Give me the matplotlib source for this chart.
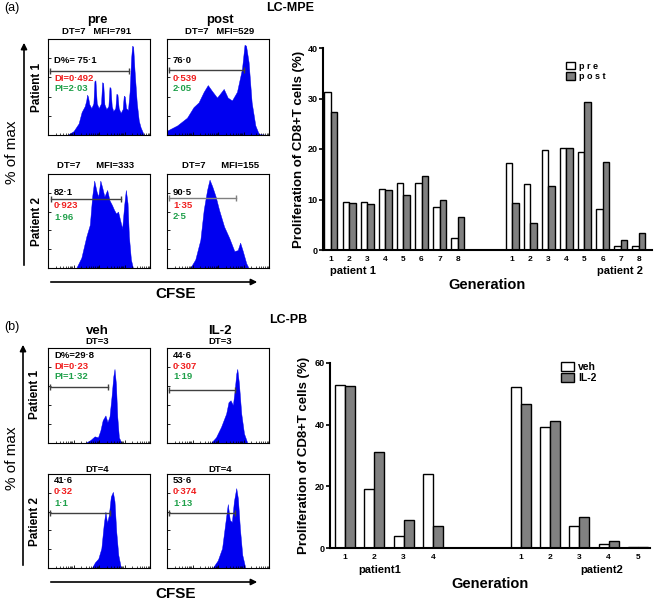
import numpy as np
import matplotlib
matplotlib.use("Agg")
import matplotlib.pyplot as plt
from matplotlib.patches import Patch, FancyArrowPatch

plt.rcParams['font.family'] = ['Liberation Sans', 'DejaVu Sans']
plt.rcParams['font.weight'] = 'bold'

# ---------------- data: bar charts ----------------
mpe_generations = [1, 2, 3, 4, 5, 6, 7, 8]
mpe_p1_pre = [31.3, 9.5, 9.5, 12.0, 13.2, 13.2, 8.6, 2.4]
mpe_p1_post = [27.3, 9.3, 9.1, 11.8, 10.9, 14.6, 9.9, 6.5]
mpe_p2_pre = [17.3, 13.0, 19.9, 20.2, 19.5, 8.2, 0.8, 0.8]
mpe_p2_post = [9.3, 5.4, 12.6, 20.1, 29.3, 17.5, 2.0, 3.4]

pb_p1_generations = [1, 2, 3, 4]
pb_p1_veh = [53.0, 19.0, 3.9, 24.0]
pb_p1_il2 = [52.6, 31.2, 9.1, 7.2]
pb_p2_generations = [1, 2, 3, 4, 5]
pb_p2_veh = [52.2, 39.1, 7.2, 1.4, 0.3]
pb_p2_il2 = [46.8, 41.2, 10.0, 2.2, 0.2]

# ---------------- data: CFSE histogram outlines (fraction of box) -------------
mpe_pre_p1_x = [0.0, 0.19, 0.25, 0.30, 0.33, 0.36, 0.375, 0.383, 0.392, 0.405, 0.425, 0.445,
                0.455, 0.465, 0.478, 0.497, 0.52, 0.531, 0.541, 0.553, 0.572, 0.592, 0.603,
                0.613, 0.625, 0.64, 0.66, 0.671, 0.681, 0.693, 0.712, 0.732, 0.743, 0.753,
                0.765, 0.784, 0.80, 0.815, 0.825, 0.835, 0.848, 0.87, 0.89, 0.908, 0.94, 1.0]
mpe_pre_p1_y = [0.0, 0.0, 0.04, 0.12, 0.24, 0.30, 0.36, 0.42, 0.40, 0.32, 0.28, 0.33,
                0.56, 0.57, 0.33, 0.28, 0.33, 0.55, 0.54, 0.32, 0.27, 0.30, 0.50,
                0.49, 0.30, 0.25, 0.28, 0.43, 0.42, 0.28, 0.23, 0.27, 0.41, 0.40,
                0.28, 0.26, 0.45, 0.80, 0.93, 0.92, 0.68, 0.34, 0.15, 0.08, 0.0, 0.0]

mpe_post_p1_x = [0.0, 0.10, 0.196, 0.26, 0.31, 0.36, 0.40, 0.44, 0.49, 0.52, 0.556, 0.595, 0.637,
                 0.686, 0.735, 0.760, 0.775, 0.80, 0.83, 0.866, 0.90, 1.0]
mpe_post_p1_y = [0.045, 0.10, 0.18, 0.29, 0.34, 0.45, 0.52, 0.46, 0.39, 0.43, 0.48, 0.39, 0.36,
                 0.45, 0.69, 0.94, 0.93, 0.76, 0.34, 0.10, 0.01, 0.0]

mpe_pre_p2_x = [0.0, 0.277, 0.327, 0.377, 0.41, 0.433, 0.453, 0.477, 0.493, 0.513, 0.533, 0.553,
                0.58, 0.603, 0.627, 0.647, 0.667, 0.687, 0.707, 0.727, 0.747, 0.763, 0.78,
                0.793, 0.813, 0.833, 1.0]
mpe_pre_p2_y = [0.0, 0.0, 0.11, 0.34, 0.46, 0.76, 0.93, 0.81, 0.76, 0.93, 0.85, 0.76,
                0.83, 0.72, 0.67, 0.62, 0.58, 0.60, 0.51, 0.42, 0.67, 0.83, 0.69,
                0.34, 0.09, 0.0, 0.0]

mpe_post_p2_x = [0.0, 0.227, 0.277, 0.327, 0.36, 0.393, 0.417, 0.443, 0.477, 0.51, 0.56, 0.61,
                 0.66, 0.693, 0.717, 0.743, 0.777, 0.80, 1.0]
mpe_post_p2_y = [0.0, 0.0, 0.09, 0.30, 0.62, 0.83, 0.94, 0.87, 0.76, 0.62, 0.44, 0.32,
                 0.18, 0.19, 0.27, 0.18, 0.05, 0.0, 0.0]

pb_veh_p1_x = [0.0, 0.364, 0.414, 0.457, 0.49, 0.513, 0.536, 0.563, 0.583, 0.603, 0.623, 0.64,
               0.652, 0.666, 0.679, 0.695, 0.72, 1.0]
pb_veh_p1_y = [0.0, 0.0, 0.03, 0.07, 0.06, 0.13, 0.24, 0.29, 0.22, 0.28, 0.49, 0.70,
               0.78, 0.62, 0.28, 0.06, 0.0, 0.0]

pb_il2_p1_x = [0.0, 0.43, 0.48, 0.53, 0.58, 0.603, 0.623, 0.646, 0.662, 0.679, 0.689, 0.705,
               0.728, 0.755, 0.788, 1.0]
pb_il2_p1_y = [0.0, 0.0, 0.06, 0.17, 0.31, 0.43, 0.45, 0.40, 0.54, 0.73, 0.78, 0.63,
               0.31, 0.10, 0.0, 0.0]

pb_veh_p2_x = [0.0, 0.43, 0.46, 0.493, 0.523, 0.546, 0.563, 0.579, 0.596, 0.616, 0.636, 0.652,
               0.669, 0.689, 0.715, 1.0]
pb_veh_p2_y = [0.0, 0.0, 0.06, 0.10, 0.21, 0.46, 0.60, 0.48, 0.56, 0.76, 0.81, 0.71,
               0.39, 0.14, 0.0, 0.0]

pb_il2_p2_x = [0.0, 0.447, 0.497, 0.54, 0.573, 0.596, 0.616, 0.636, 0.656, 0.679, 0.695, 0.715,
               0.738, 0.768, 1.0]
pb_il2_p2_y = [0.0, 0.0, 0.08, 0.21, 0.49, 0.68, 0.51, 0.49, 0.71, 0.85, 0.74, 0.42,
               0.14, 0.0, 0.0]

# ---------------- figure helpers ----------------
W, H = 654, 600
fig = plt.figure(figsize=(W / 100, H / 100), dpi=100)


def rect(x0, y0, x1, y1):
    return [x0 / W, 1 - y1 / H, (x1 - x0) / W, (y1 - y0) / H]


def ftext(x, y, s, **kw):
    kw.setdefault('ha', 'center')
    kw.setdefault('va', 'center')
    kw.setdefault('fontweight', 'bold')
    fig.text(x / W, 1 - y / H, s, **kw)


def arrow(x0, y0, x1, y1):
    a = FancyArrowPatch((x0 / W, 1 - y0 / H), (x1 / W, 1 - y1 / H),
                        transform=fig.transFigure, arrowstyle='-|>',
                        mutation_scale=9, lw=1.2, color='black')
    fig.add_artist(a)


RED = '#f01e1e'
GREEN = '#1fa04a'
BLUE = '#0000f0'


def hist_box(x0, y0, x1, y1, hx, hy, gate_y, gate_x0, gate_x1, texts, gate_color='#404040'):
    ax = fig.add_axes(rect(x0, y0, x1, y1))
    ax.fill_between(hx, hy, 0, color=BLUE, lw=0.3, edgecolor=BLUE)
    ax.set_xlim(0, 1)
    ax.set_ylim(0, 1)
    for s in ax.spines.values():
        s.set_linewidth(0.8)
    ax.set_yticks(np.linspace(0, 1, 6))
    ax.set_xticks(np.linspace(0, 1, 5))
    minor = []
    for d in range(4):
        for m in range(2, 10):
            minor.append((d + np.log10(m)) / 4)
    ax.set_xticks(minor, minor=True)
    ax.tick_params(direction='in', length=2.5, width=0.6, labelleft=False, labelbottom=False)
    ax.tick_params(which='minor', direction='in', length=1.3, width=0.5)
    ax.plot([gate_x0, gate_x1], [gate_y, gate_y], color=gate_color, lw=1.0)
    ax.plot([gate_x0, gate_x1], [gate_y, gate_y], ls='none', marker='|', ms=4,
            mew=1.0, color=gate_color)
    for (tx, ty, s, c) in texts:
        ax.text(tx, ty, s, color=c, fontsize=6.8, fontweight='bold',
                ha='left', va='center', transform=ax.transAxes)
    return ax


# ---------------- panel (a) ----------------
ftext(12, 8, '(a)', fontsize=9, fontweight='normal')
ftext(290, 8, 'LC-MPE', fontsize=9)
ftext(97, 20, 'pre', fontsize=9.5)
ftext(220, 20, 'post', fontsize=9.5)
ftext(97, 32, 'DT=7   MFI=791', fontsize=6.8)
ftext(220, 32, 'DT=7   MFI=529', fontsize=6.8)
ftext(96, 165, 'DT=7      MFI=333', fontsize=6.8)
ftext(221, 166, 'DT=7      MFI=155', fontsize=6.8)

hist_box(48, 39, 150, 135, mpe_pre_p1_x, mpe_pre_p1_y, 0.67, 0.02, 0.795,
         [(0.06, 0.78, 'D%= 75·1', 'black'), (0.06, 0.59, 'DI=0·492', RED),
          (0.06, 0.48, 'PI=2·03', GREEN)])
hist_box(167, 39, 269, 135, mpe_post_p1_x, mpe_post_p1_y, 0.68, 0.016, 0.75,
         [(0.06, 0.78, '76·0', 'black'), (0.06, 0.59, '0·539', RED),
          (0.06, 0.48, '2·05', GREEN)])
hist_box(48, 174, 150, 268, mpe_pre_p2_x, mpe_pre_p2_y, 0.73, 0.033, 0.72,
         [(0.06, 0.80, '82·1', 'black'), (0.06, 0.66, '0·923', RED),
          (0.06, 0.54, '1·96', GREEN)])
hist_box(167, 174, 269, 268, mpe_post_p2_x, mpe_post_p2_y, 0.75, 0.02, 0.677,
         [(0.06, 0.80, '90·5', 'black'), (0.06, 0.67, '1·35', RED),
          (0.06, 0.55, '2·5', GREEN)], gate_color='#808080')

ftext(37, 87, 'Patient 1', fontsize=8.5, rotation=90)
ftext(37, 221, 'Patient 2', fontsize=8.5, rotation=90)
arrow(24, 268, 24, 40)
arrow(48, 282, 260, 282)
ftext(12, 152, '% of max', fontsize=11, fontweight='normal', rotation=90)
ftext(176, 294, 'CFSE', fontsize=11)

# bar chart (a)
axa = fig.add_axes(rect(323, 48, 652, 250))
pos_p1 = np.array(mpe_generations, dtype=float)
pos_p2 = np.array(mpe_generations, dtype=float) + 10
bw = 0.36
axa.bar(pos_p1 - bw / 2, mpe_p1_pre, bw, color='white', edgecolor='black', lw=1.0)
axa.bar(pos_p1 + bw / 2, mpe_p1_post, bw, color='#808080', edgecolor='black', lw=1.0)
axa.bar(pos_p2 - bw / 2, mpe_p2_pre, bw, color='white', edgecolor='black', lw=1.0)
axa.bar(pos_p2 + bw / 2, mpe_p2_post, bw, color='#808080', edgecolor='black', lw=1.0)
axa.set_xlim(0.56, 18.73)
axa.set_ylim(0, 40)
axa.set_yticks([0, 10, 20, 30, 40])
axa.set_xticks(np.concatenate([pos_p1, pos_p2]))
axa.set_xticklabels([str(g) for g in mpe_generations] * 2)
axa.spines['top'].set_visible(False)
axa.spines['right'].set_visible(False)
axa.spines['left'].set_linewidth(1.5)
axa.spines['bottom'].set_linewidth(1.5)
axa.tick_params(axis='y', length=3, width=1.2, labelsize=6.5, pad=1)
axa.tick_params(axis='x', length=0, labelsize=6, pad=4)
for lbl in axa.get_xticklabels() + axa.get_yticklabels():
    lbl.set_fontweight('bold')
axa.set_ylabel('Proliferation of CD8+T cells (%)', fontsize=9.5, fontweight='bold', labelpad=2)
axa.legend(handles=[Patch(facecolor='white', edgecolor='black', lw=1.0, label='p r e'),
                    Patch(facecolor='#808080', edgecolor='black', lw=1.0, label='p o s t')],
           loc='upper left', bbox_to_anchor=(561 / W, 1 - 57 / H), bbox_transform=fig.transFigure,
           frameon=False, handlelength=1.1, handleheight=0.9,
           labelspacing=0.15, borderpad=0, handletextpad=0.4,
           prop={'weight': 'bold', 'size': 6.5})
ftext(353, 271, 'patient 1', fontsize=8)
ftext(620, 271, 'patient 2', fontsize=8)
ftext(487, 285, 'Generation', fontsize=10.5)

# ---------------- panel (b) ----------------
ftext(12, 327, '(b)', fontsize=9, fontweight='normal')
ftext(288, 320, 'LC-PB', fontsize=9)
ftext(97, 331, 'veh', fontsize=9.5)
ftext(220, 331, 'IL-2', fontsize=9.5)
ftext(97, 342, 'DT=3', fontsize=6.8)
ftext(220, 342, 'DT=3', fontsize=6.8)
ftext(97, 469, 'DT=4', fontsize=6.8)
ftext(220, 469, 'DT=4', fontsize=6.8)

hist_box(48, 348, 150, 443, pb_veh_p1_x, pb_veh_p1_y, 0.59, 0.017, 0.59,
         [(0.06, 0.92, 'D%=29·8', 'black'), (0.06, 0.81, 'DI=0·23', RED),
          (0.06, 0.70, 'PI=1·32', GREEN)])
hist_box(167, 348, 269, 443, pb_il2_p1_x, pb_il2_p1_y, 0.56, 0.017, 0.662,
         [(0.06, 0.92, '44·6', 'black'), (0.06, 0.81, '0·307', RED),
          (0.06, 0.70, '1·19', GREEN)])
hist_box(48, 474, 150, 568, pb_veh_p2_x, pb_veh_p2_y, 0.58, 0.017, 0.61,
         [(0.06, 0.93, '41·6', 'black'), (0.06, 0.81, '0·32', RED),
          (0.06, 0.69, '1·1', GREEN)])
hist_box(167, 474, 269, 568, pb_il2_p2_x, pb_il2_p2_y, 0.58, 0.017, 0.67,
         [(0.06, 0.93, '53·6', 'black'), (0.06, 0.81, '0·374', RED),
          (0.06, 0.69, '1·13', GREEN)])

ftext(35, 394, 'Patient 1', fontsize=8.5, rotation=90)
ftext(35, 521, 'Patient 2', fontsize=8.5, rotation=90)
arrow(23, 568, 23, 342)
arrow(48, 582, 260, 582)
ftext(12, 458, '% of max', fontsize=11, fontweight='normal', rotation=90)
ftext(176, 594, 'CFSE', fontsize=11)

# bar chart (b)
axb = fig.add_axes(rect(330, 363, 650, 548))
qpos_p1 = np.array(pb_p1_generations, dtype=float)
qpos_p2 = np.array(pb_p2_generations, dtype=float) + 6
bw2 = 0.34
axb.bar(qpos_p1 - bw2 / 2, pb_p1_veh, bw2, color='white', edgecolor='black', lw=1.0)
axb.bar(qpos_p1 + bw2 / 2, pb_p1_il2, bw2, color='#808080', edgecolor='black', lw=1.0)
axb.bar(qpos_p2 - bw2 / 2, pb_p2_veh, bw2, color='white', edgecolor='black', lw=1.0)
axb.bar(qpos_p2 + bw2 / 2, pb_p2_il2, bw2, color='#808080', edgecolor='black', lw=1.0)
axb.set_xlim(0.49, 11.41)
axb.set_ylim(0, 60)
axb.set_yticks([0, 20, 40, 60])
axb.set_xticks(np.concatenate([qpos_p1, qpos_p2]))
axb.set_xticklabels([str(g) for g in pb_p1_generations] + [str(g) for g in pb_p2_generations])
axb.spines['top'].set_visible(False)
axb.spines['right'].set_visible(False)
axb.spines['left'].set_linewidth(1.5)
axb.spines['bottom'].set_linewidth(1.5)
axb.tick_params(axis='y', length=3, width=1.2, labelsize=6.5, pad=1)
axb.tick_params(axis='x', length=0, labelsize=6, pad=4)
for lbl in axb.get_xticklabels() + axb.get_yticklabels():
    lbl.set_fontweight('bold')
axb.set_ylabel('Proliferation of CD8+T cells (%)', fontsize=9.5, fontweight='bold', labelpad=3)
axb.legend(handles=[Patch(facecolor='white', edgecolor='black', lw=1.0, label='veh'),
                    Patch(facecolor='#808080', edgecolor='black', lw=1.0, label='IL-2')],
           loc='upper left', bbox_to_anchor=(556 / W, 1 - 357 / H), bbox_transform=fig.transFigure,
           frameon=False, handlelength=1.2, handleheight=0.9,
           labelspacing=0.1, borderpad=0, handletextpad=0.4,
           prop={'weight': 'bold', 'size': 7.5})
ftext(380, 570, 'patient1', fontsize=8)
ftext(602, 570, 'patient2', fontsize=8)
ftext(490, 584, 'Generation', fontsize=10.5)

fig.savefig('out.png', dpi=100)
